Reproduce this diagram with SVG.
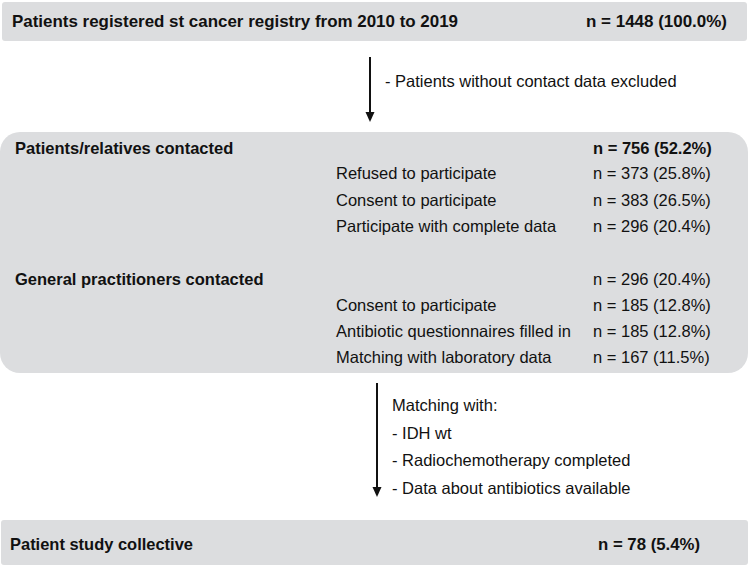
<svg xmlns="http://www.w3.org/2000/svg" width="750" height="567" viewBox="0 0 750 567">
<style>
text{font-family:"Liberation Sans",Arial,sans-serif;fill:#111;}
.b{font-weight:bold;font-size:16.5px;}
.r{font-size:16.5px;}
.box{fill:#dcdddf;}
.c{stroke:#111;stroke-width:2;fill:none;}
</style>
<rect width="750" height="567" fill="#fff"/>
<g id="top">
<rect class="box" x="2" y="2" width="745" height="39" rx="3"/>
<text class="b" x="12" y="27" font-size="17" textLength="446" lengthAdjust="spacingAndGlyphs">Patients registered st cancer registry from 2010 to 2019</text>
<text class="b" x="586" y="27" textLength="141" lengthAdjust="spacingAndGlyphs">n = 1448 (100.0%)</text>
</g>
<g id="contacted">
<rect class="box" x="0" y="132" width="748" height="241" rx="20"/>
<text class="b" x="15" y="154">Patients/relatives contacted</text>
<text class="b" x="593" y="154">n = 756 (52.2%)</text>
<text class="r" x="336" y="179">Refused to participate</text>
<text class="r" x="593" y="179">n = 373 (25.8%)</text>
<text class="r" x="336" y="206">Consent to participate</text>
<text class="r" x="593" y="206">n = 383 (26.5%)</text>
<text class="r" x="336" y="232">Participate with complete data</text>
<text class="r" x="593" y="232">n = 296 (20.4%)</text>
<text class="b" x="15" y="285">General practitioners contacted</text>
<text class="r" x="593" y="285">n = 296 (20.4%)</text>
<text class="r" x="336" y="311">Consent to participate</text>
<text class="r" x="593" y="311">n = 185 (12.8%)</text>
<text class="r" x="336" y="337">Antibiotic questionnaires filled in</text>
<text class="r" x="593" y="337">n = 185 (12.8%)</text>
<text class="r" x="336" y="363">Matching with laboratory data</text>
<text class="r" x="593" y="363">n = 167 (11.5%)</text>
</g>
<g id="collective">
<rect class="box" x="1" y="520" width="747" height="45" rx="3"/>
<text class="b" x="10" y="550" textLength="183" lengthAdjust="spacingAndGlyphs">Patient study collective</text>
<text class="b" x="598" y="550" textLength="102" lengthAdjust="spacingAndGlyphs">n = 78 (5.4%)</text>
</g>
<g id="connectors">
<line class="c" x1="370" y1="57" x2="370" y2="114"/>
<path d="M365.5,112 L374.5,112 L370,122 Z" fill="#111"/>
<text class="r" x="385" y="87">- Patients without contact data excluded</text>
<line class="c" x1="377" y1="383" x2="377" y2="489"/>
<path d="M372.5,487 L381.5,487 L377,497 Z" fill="#111"/>
<text class="r" x="392" y="411">Matching with:</text>
<text class="r" x="392" y="439">- IDH wt</text>
<text class="r" x="392" y="466">- Radiochemotherapy completed</text>
<text class="r" x="392" y="494">- Data about antibiotics available</text>
</g>
</svg>
